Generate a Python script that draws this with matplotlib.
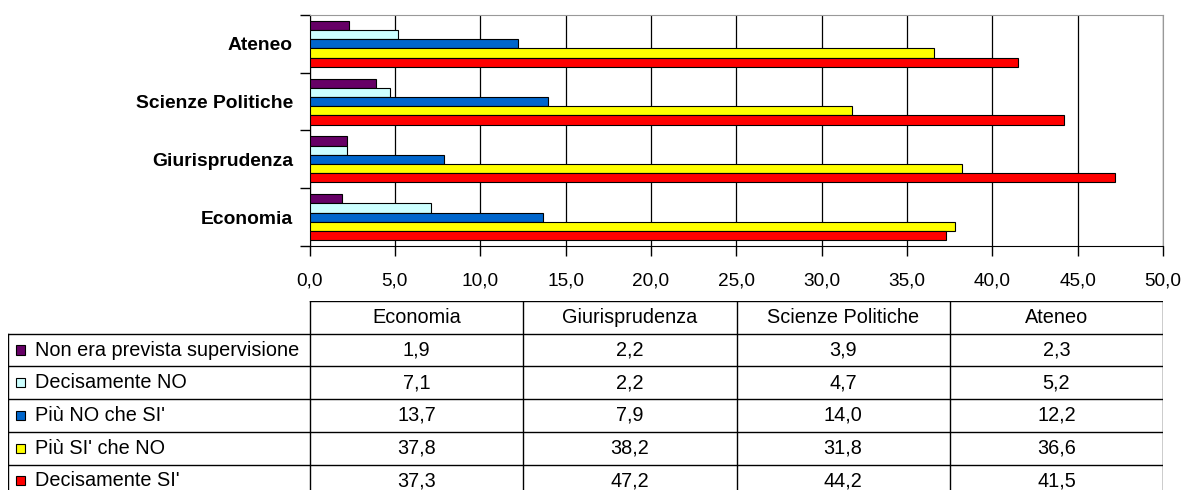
import matplotlib
matplotlib.use("Agg")
import matplotlib.pyplot as plt
from matplotlib.patches import Rectangle
import numpy as np

plt.rcParams["font.family"] = ["Liberation Sans", "DejaVu Sans"]

# dati
facolta = ["Economia", "Giurisprudenza", "Scienze Politiche", "Ateneo"]
serie = ["Non era prevista supervisione", "Decisamente NO", "Più NO che SI'",
         "Più SI' che NO", "Decisamente SI'"]
non_prevista = [1.9, 2.2, 3.9, 2.3]
decisamente_no = [7.1, 2.2, 4.7, 5.2]
piu_no = [13.7, 7.9, 14.0, 12.2]
piu_si = [37.8, 38.2, 31.8, 36.6]
decisamente_si = [37.3, 47.2, 44.2, 41.5]
valori = [non_prevista, decisamente_no, piu_no, piu_si, decisamente_si]
colori = ["#660066", "#CCFFFF", "#0066CC", "#FFFF00", "#FF0000"]
xticks = np.arange(0, 51, 5)

W, H = 1182, 490
fig = plt.figure(figsize=(W / 100, H / 100), dpi=100)


def fmt(v):
    return f"{v:.1f}".replace(".", ",")


# ── grafico a barre ──────────────────────────────────────────────────────────
x0, x1, y0, y1 = 309.5, 1163, 15, 246
ax = fig.add_axes([x0 / W, 1 - y1 / H, (x1 - x0) / W, (y1 - y0) / H])
pos = np.arange(len(facolta))
h = 0.16
for i, (vals, col) in enumerate(zip(valori, colori)):
    ax.barh(pos + 0.32 - i * h, vals, height=h, color=col, edgecolor="black",
            linewidth=0.8, zorder=3)

ax.set_xlim(0, 50)
ax.set_ylim(-0.5, len(facolta) - 0.5)
ax.set_xticks(xticks)
ax.set_xticklabels([fmt(v) for v in xticks], fontsize=13.7)
ax.set_yticks(np.arange(-0.5, len(facolta), 1))
ax.set_yticklabels([])
ax.set_yticks(pos, minor=True)
ax.set_yticklabels(facolta, minor=True, fontsize=13.9, fontweight="bold")
ax.tick_params(axis="y", which="minor", length=0, pad=12)
ax.tick_params(axis="both", which="major", length=7, width=1, direction="out")
ax.tick_params(axis="x", pad=12)
ax.grid(axis="x", color="black", linewidth=0.9, zorder=0)
for s in ["top", "right"]:
    ax.spines[s].set_color("#999999")
for s in ["left", "bottom"]:
    ax.spines[s].set_color("black")

# ── tabella dati ─────────────────────────────────────────────────────────────
LABEL_W, COL_W = 302, 213.25
tx0, ty0, row_h = 8, 301, 32.7
nrow = len(serie) + 1
tot_w = LABEL_W + COL_W * len(facolta)
tax = fig.add_axes([tx0 / W, 1 - (ty0 + nrow * row_h) / H, tot_w / W, nrow * row_h / H])
tax.set_xlim(0, tot_w)
tax.set_ylim(nrow, 0)
tax.axis("off")

lc = dict(color="black", linewidth=1)
tax.plot([LABEL_W, tot_w], [0, 0], **lc)
for r in range(1, nrow + 1):
    tax.plot([0, tot_w], [r, r], **lc)
tax.plot([0, 0], [1, nrow], **lc)
for j in range(len(facolta) + 1):
    xx = LABEL_W + j * COL_W
    tax.plot([xx, xx], [0, nrow], **lc)

for j, f in enumerate(facolta):
    tax.text(LABEL_W + (j + 0.5) * COL_W, 0.5, f, ha="center", va="center",
             fontsize=14.3)
for i, (nome, vals, col) in enumerate(zip(serie, valori, colori)):
    r = i + 1.5
    tax.add_patch(Rectangle((8, r - 0.14), 9, 0.28, facecolor=col,
                            edgecolor="black", linewidth=0.8))
    tax.text(27, r, nome, ha="left", va="center", fontsize=14.3)
    for j, v in enumerate(vals):
        tax.text(LABEL_W + (j + 0.5) * COL_W, r, fmt(v), ha="center",
                 va="center", fontsize=14.3)

fig.savefig("out.png", dpi=100)
